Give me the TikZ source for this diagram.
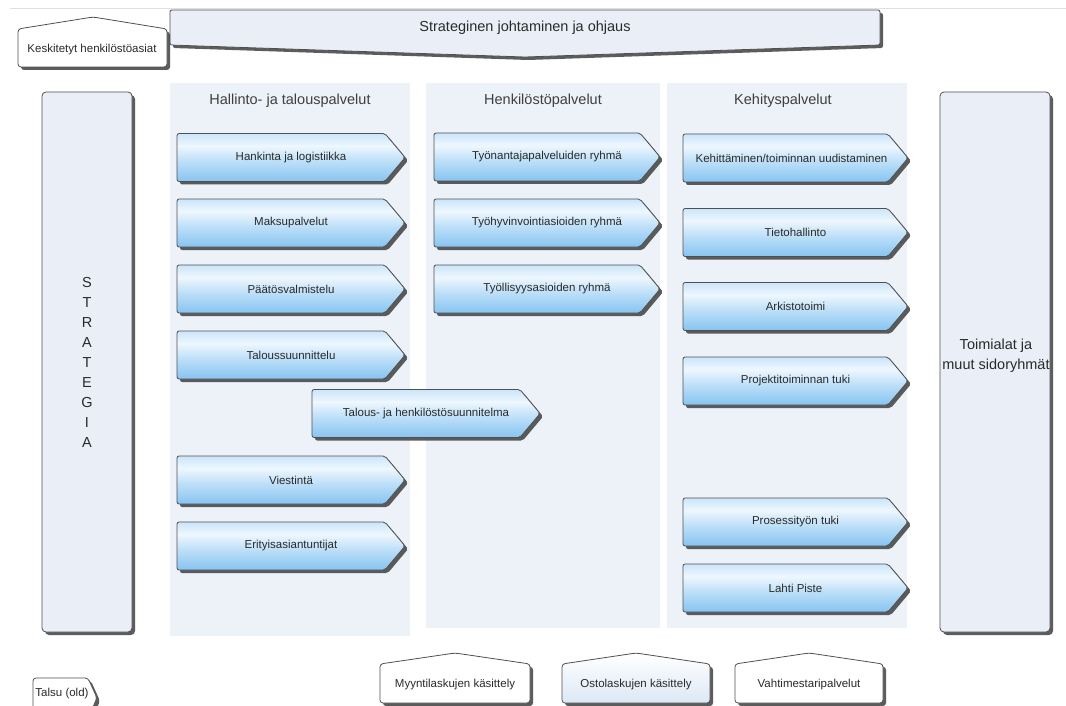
\documentclass[tikz,border=0pt]{standalone}
\usepackage{fontspec}
\setmainfont{Liberation Sans}
\usetikzlibrary{shapes.symbols,shadows,calc}

\definecolor{panel}{HTML}{EDF1F8}
\definecolor{boxfill}{HTML}{EAEFF7}
\definecolor{edge}{HTML}{505050}
\definecolor{ink}{HTML}{2A2A2A}
\definecolor{bandA}{HTML}{86C4F1}
\definecolor{bandB}{HTML}{BFE0F8}
\definecolor{bandC}{HTML}{EEF7FE}
\definecolor{bandD}{HTML}{CBE5FA}
\definecolor{paleA}{HTML}{DCE8F5}

% vertical band used by the service arrows (path spans 25bp..75bp)
\pgfdeclareverticalshading{blueband}{100bp}{color(0bp)=(bandA); color(25bp)=(bandA); color(47bp)=(bandB); color(62bp)=(bandC); color(75bp)=(bandD); color(100bp)=(bandD)}
\pgfdeclareverticalshading{paleband}{100bp}{color(0bp)=(paleA); color(25bp)=(paleA); color(75bp)=(white); color(100bp)=(white)}

\tikzset{
  hardshadow/.style={drop shadow={shadow xshift=3pt,shadow yshift=-3pt,fill=black!75,opacity=0.85}},
  % node centre = body centre; the label is pushed right so it sits mid-arrow
  svcbase/.style={signal, signal to=east, signal pointer angle=100, draw=edge, line width=0.8pt,
    shading=blueband, rounded corners=2pt, inner sep=0pt, minimum height=48pt,
    font=\fontsize{11.5}{13}\selectfont, text=ink, hardshadow},
  svc/.style={svcbase, execute at begin node={\hspace*{20pt}}},
  svcA/.style={svc, minimum width=228pt},
  svcB/.style={svc, minimum width=226pt},
  svcC/.style={svc, minimum width=225pt},
  panelbox/.style={rectangle, fill=panel, draw=none, inner sep=0pt},
  paneltitle/.style={font=\fontsize{14.5}{17}\selectfont, text=ink!90},
  sidebox/.style={rectangle, rounded corners=4pt, fill=boxfill, draw=edge, line width=0.8pt,
    inner sep=0pt, minimum height=540pt, text=ink, hardshadow},
  tag/.style={draw=edge, line width=0.8pt, rounded corners=3pt, hardshadow},
  taglabel/.style={font=\fontsize{11.5}{13}\selectfont, text=ink, inner sep=0pt},
}

\begin{document}
\begin{tikzpicture}[x=1pt,y=-1pt]
\useasboundingbox (0,0) rectangle (1066,706);
\clip (0,0) rectangle (1066,706);
\fill[white] (0,0) rectangle (1066,706);
\draw[black!12, line width=0.8pt] (10,8) -- (1066,8);

% steering banner across the top
\draw[tag, fill=boxfill, rounded corners=2pt] (170,45) -- (170,10) -- (880,10) -- (880,45) -- (525,57) -- cycle;
\node[font=\fontsize{14.5}{16}\selectfont, text=ink, inner sep=0pt] (banner) at (525,28) {Strateginen johtaminen ja ohjaus};

% centralised HR tag
\draw[tag, fill=white] (18,67) -- (18,29) -- (93,17) -- (167,29) -- (167,67) -- cycle;
\node[taglabel] (kesk) at (92,50) {Keskitetyt henkilöstöasiat};

% service area panels
\node[panelbox, minimum width=240pt, minimum height=553pt] (p1) at (290,359.5) {};
\node[panelbox, minimum width=234pt, minimum height=545pt] (p2) at (543,355.5) {};
\node[panelbox, minimum width=240pt, minimum height=545pt] (p3) at (787,355.5) {};
\node[paneltitle] (t1) at (290,101) {Hallinto- ja talouspalvelut};
\node[paneltitle] (t2) at (543,101) {Henkilöstöpalvelut};
\node[paneltitle] (t3) at (783,101) {Kehityspalvelut};

% side columns
\node[sidebox, minimum width=90pt, font=\fontsize{14.5}{20}\selectfont, align=center] (strat) at (87,362)
  {S\\T\\R\\A\\T\\E\\G\\I\\A};
\node[sidebox, minimum width=110pt] (toim) at (995,362) {};
\node[font=\fontsize{14.5}{20}\selectfont, text=ink, align=center, inner sep=0pt] (toimtext) at (996,356)
  {Toimialat ja\\muut sidoryhmät};

% administration and finance
\node[svcA] (a1) at (281,157.5) {Hankinta ja logistiikka};
\node[svcA] (a2) at (281,223) {Maksupalvelut};
\node[svcA] (a3) at (281,289) {Päätösvalmistelu};
\node[svcA] (a4) at (281,355) {Taloussuunnittelu};
\node[svcA] (a5) at (416,413.5) {Talous- ja henkilöstösuunnitelma};
\node[svcA] (a6) at (281,480) {Viestintä};
\node[svcA] (a7) at (281,546) {Erityisasiantuntijat};

% personnel services
\node[svcB] (b1) at (537,157) {Työnantajapalveluiden ryhmä};
\node[svcB] (b2) at (537,223) {Työhyvinvointiasioiden ryhmä};
\node[svcB] (b3) at (537,289) {Työllisyysasioiden ryhmä};

% development services
\node[svcbase, minimum width=225pt, execute at begin node={\hspace*{12pt}}] (c1) at (785.5,158) {Kehittäminen/toiminnan uudistaminen};
\node[svcC] (c2) at (785.5,232.5) {Tietohallinto};
\node[svcC] (c3) at (785.5,306.5) {Arkistotoimi};
\node[svcC] (c4) at (785.5,381) {Projektitoiminnan tuki};
\node[svcC] (c5) at (785.5,522) {Prosessityön tuki};
\node[svcC] (c6) at (785.5,588) {Lahti Piste};

% bottom tags
\draw[tag, fill=white] (380,703) -- (380,664) -- (455,653) -- (530,664) -- (530,703) -- cycle;
\node[taglabel] (myy) at (455,685) {Myyntilaskujen käsittely};
\draw[tag, shading=paleband] (562,703) -- (562,664) -- (636,653) -- (710,664) -- (710,703) -- cycle;
\node[taglabel] (osto) at (636,685) {Ostolaskujen käsittely};
\draw[tag, fill=white] (735,703) -- (735,664) -- (809,653) -- (883,664) -- (883,703) -- cycle;
\node[taglabel] (vaht) at (809,685) {Vahtimestaripalvelut};

% legacy tag in the corner
\draw[tag, fill=white] (33,718) -- (33,678) -- (88,678) -- (97,698) -- (88,718) -- cycle;
\node[taglabel] (talsu) at (62,694) {Talsu (old)};
\end{tikzpicture}
\end{document}
